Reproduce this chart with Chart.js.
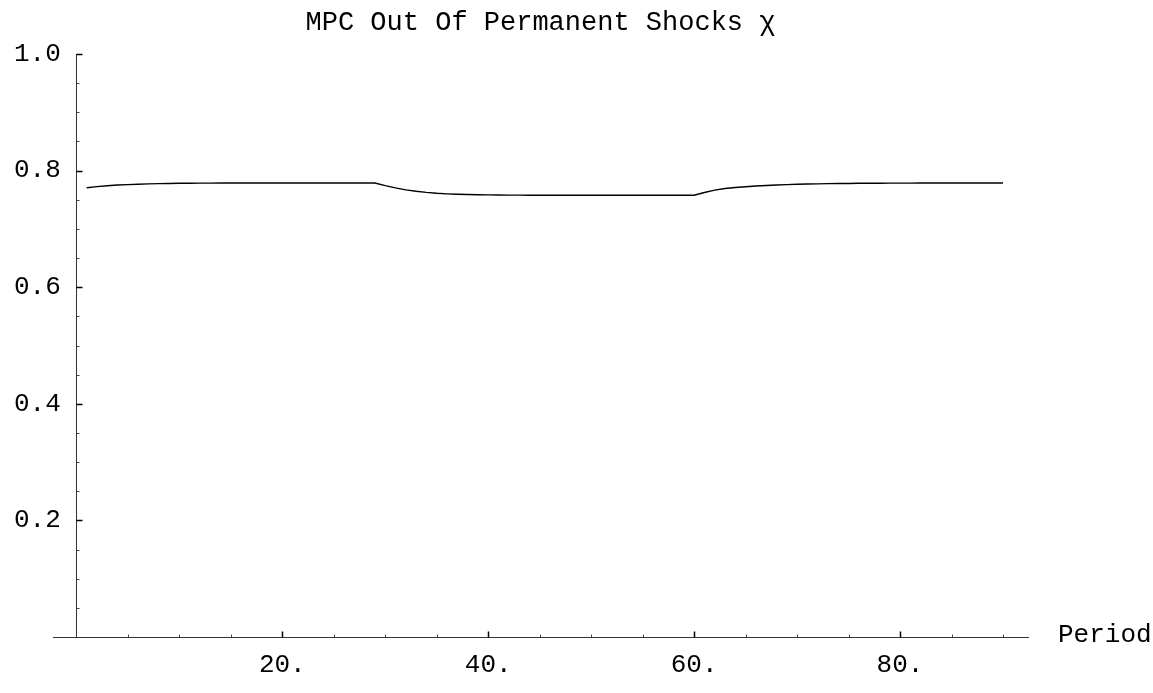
<!DOCTYPE html>
<html>
<head>
<meta charset="utf-8">
<script src="https://cdn.jsdelivr.net/npm/chart.js@4.4.1/dist/chart.umd.min.js"></script>
<style>
  html, body { margin: 0; padding: 0; background: #fff; }
  #wrap { width: 1153px; height: 693px; }
</style>
</head>
<body>
<div id="wrap"><canvas id="mpcChart"></canvas></div>
<script>
// периоды жизни и MPC из постоянных шоков
const periods = [
  1, 2, 3, 4, 5, 6, 7, 8, 9, 10, 11, 12, 13, 14, 15,
  16, 17, 18, 19, 20, 21, 22, 23, 24, 25, 26, 27, 28, 29, 30,
  31, 32, 33, 34, 35, 36, 37, 38, 39, 40, 41, 42, 43, 44, 45,
  46, 47, 48, 49, 50, 51, 52, 53, 54, 55, 56, 57, 58, 59, 60,
  61, 62, 63, 64, 65, 66, 67, 68, 69, 70, 71, 72, 73, 74, 75,
  76, 77, 78, 79, 80, 81, 82, 83, 84, 85, 86, 87, 88, 89, 90
];
const chi = [
  0.7705, 0.7725, 0.7740, 0.7752, 0.7760, 0.7767, 0.7772, 0.7776, 0.7779, 0.7782,
  0.7784, 0.7785, 0.7786, 0.7787, 0.7787, 0.7788, 0.7788, 0.7788, 0.7788, 0.7788,
  0.7788, 0.7788, 0.7788, 0.7788, 0.7788, 0.7788, 0.7788, 0.7788, 0.7788, 0.7742,
  0.7703, 0.7670, 0.7645, 0.7626, 0.7611, 0.7601, 0.7594, 0.7589, 0.7585, 0.7583,
  0.7581, 0.7580, 0.7579, 0.7578, 0.7578, 0.7578, 0.7578, 0.7578, 0.7578, 0.7578,
  0.7578, 0.7578, 0.7578, 0.7578, 0.7578, 0.7578, 0.7578, 0.7578, 0.7578, 0.7578,
  0.7625, 0.7666, 0.7693, 0.7711, 0.7724, 0.7735, 0.7745, 0.7752, 0.7759, 0.7765,
  0.7769, 0.7773, 0.7776, 0.7778, 0.7780, 0.7782, 0.7783, 0.7784, 0.7785, 0.7786,
  0.7786, 0.7787, 0.7787, 0.7787, 0.7788, 0.7788, 0.7788, 0.7788, 0.7788, 0.7788
];

// деления осей
const xTicks = [5, 10, 15, 20, 25, 30, 35, 40, 45, 50, 55, 60, 65, 70, 75, 80, 85, 90];
const xMajor = [20, 40, 60, 80];
const xLabels = ['20.', '40.', '60.', '80.'];
const yTicks = [0.05, 0.1, 0.15, 0.2, 0.25, 0.3, 0.35, 0.4, 0.45, 0.5,
                0.55, 0.6, 0.65, 0.7, 0.75, 0.8, 0.85, 0.9, 0.95, 1.0];
const yMajor = [0.2, 0.4, 0.6, 0.8, 1.0];
const yLabels = ['0.2', '0.4', '0.6', '0.8', '1.0'];

const chartTitle = 'MPC Out Of Permanent Shocks \u03c7';
const xAxisName = 'Period';

const monoFont = '"Liberation Mono", "Courier New", monospace';
const axisColor = '#333';

function findLabel(v, majors, labels) {
  const i = majors.findIndex(m => Math.abs(m - v) < 1e-6);
  return i >= 0 ? labels[i] : '';
}

// засечки как в Mathematica: короткие, внутрь графика + подпись "Period"
const axisDecor = {
  id: 'axisDecor',
  afterDraw(chart) {
    const ctx = chart.ctx;
    const xs = chart.scales.x, ys = chart.scales.y;
    const x0 = Math.round(xs.getPixelForValue(0)) + 0.5;
    const y0 = Math.round(ys.getPixelForValue(0)) + 0.5;
    ctx.save();
    xs.ticks.forEach(t => {
      const major = findLabel(t.value, xMajor, xLabels) !== '';
      const px = Math.round(xs.getPixelForValue(t.value)) + 0.5;
      ctx.strokeStyle = major ? '#000' : '#444';
      ctx.lineWidth = major ? 1.5 : 1;
      ctx.beginPath();
      ctx.moveTo(px, y0);
      ctx.lineTo(px, y0 - (major ? 6 : 3));
      ctx.stroke();
    });
    ys.ticks.forEach(t => {
      const major = findLabel(t.value, yMajor, yLabels) !== '';
      const py = Math.round(ys.getPixelForValue(t.value)) + 0.5;
      ctx.strokeStyle = major ? '#000' : '#444';
      ctx.lineWidth = major ? 1.5 : 1;
      ctx.beginPath();
      ctx.moveTo(x0, py);
      ctx.lineTo(x0 + (major ? 6 : 3), py);
      ctx.stroke();
    });
    ctx.fillStyle = '#000';
    ctx.font = '26px ' + monoFont;
    ctx.textAlign = 'left';
    ctx.textBaseline = 'middle';
    ctx.fillText(xAxisName, xs.right + 30, y0 - 2);
    ctx.restore();
  }
};

const ctx = document.getElementById('mpcChart').getContext('2d');
const chart = new Chart(ctx, {
  type: 'line',
  data: {
    datasets: [{
      data: periods.map((p, i) => ({ x: p, y: chi[i] })),
      borderColor: '#000',
      borderWidth: 1.4,
      pointRadius: 0,
      fill: false,
      tension: 0
    }]
  },
  options: {
    responsive: true,
    maintainAspectRatio: false,
    animation: false,
    layout: {
      padding: { left: 53, right: 125, top: 0, bottom: 0 }
    },
    plugins: {
      legend: { display: false },
      tooltip: { enabled: false },
      title: {
        display: true,
        text: chartTitle,
        fullSize: false,
        color: '#000',
        font: { family: monoFont, size: 27, weight: 'normal', lineHeight: 1.2 },
        padding: { top: 7, bottom: 14.6 }
      }
    },
    scales: {
      x: {
        type: 'linear',
        min: -2.27,
        max: 92.43,
        afterBuildTicks: s => { s.ticks = xTicks.map(v => ({ value: v })); },
        grid: { display: false, drawTicks: false },
        border: { display: true, color: axisColor, width: 1 },
        ticks: {
          autoSkip: false,
          maxRotation: 0,
          padding: 15,
          color: '#000',
          font: { family: monoFont, size: 26, lineHeight: 1.0 },
          callback: v => findLabel(v, xMajor, xLabels)
        }
      },
      y: {
        type: 'linear',
        position: { x: 0 },
        min: 0,
        max: 1.0,
        afterBuildTicks: s => { s.ticks = yTicks.map(v => ({ value: v })); },
        grid: { display: false, drawTicks: false },
        border: { display: true, color: axisColor, width: 1 },
        ticks: {
          autoSkip: false,
          color: '#000',
          font: { family: monoFont, size: 26, lineHeight: 1.0 },
          // ось стоит в x = 0, padding тут не работает — отступ пробелом
          callback: v => {
            const s = findLabel(v, yMajor, yLabels);
            return s ? s + ' ' : '';
          }
        }
      }
    }
  },
  plugins: [axisDecor]
});
</script>
</body>
</html>
